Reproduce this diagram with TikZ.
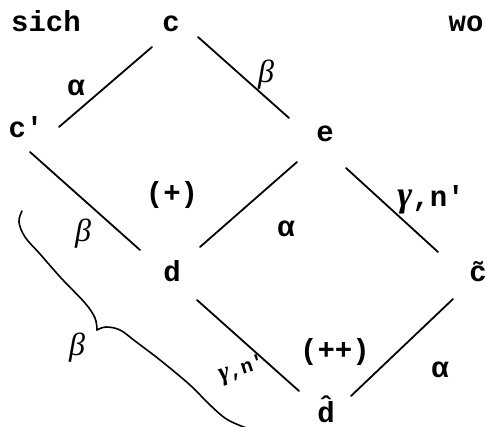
\documentclass[tikz,border=0pt]{standalone}
\usepackage{fontspec}
\setmainfont{Liberation Mono}
\newfontfamily\grk{Liberation Serif}
\usetikzlibrary{calc}
\newcommand{\gam}[1]{{\fontsize{#1}{#1}\selectfont\grk\itshape γ}}
\begin{document}
\begin{tikzpicture}[x=1pt,y=-1pt,
  lbl/.style={font=\fontsize{29}{31}\selectfont\bfseries, inner sep=0pt, anchor=base},
  greek/.style={font=\fontsize{29}{31}\selectfont\bfseries, inner sep=0pt},
  betastyle/.style={font=\fontsize{32}{34}\selectfont\grk\itshape, inner sep=0pt},
  small/.style={font=\fontsize{20}{22}\selectfont\bfseries, inner sep=0pt},
  edge/.style={line width=1.8pt, line cap=round},
  brace/.style={line width=1.6pt, line cap=round, line join=round}]
\useasboundingbox (0,0) rectangle (487,427);
% vertices
\node[lbl] (sich) at (46,32) {sich};
\node[lbl] (c) at (171,32) {c};
\node[lbl] (wo) at (466,32) {wo};
\node[lbl] (cp) at (26,138) {c\textquotesingle};
\node[lbl] (e) at (325,142) {e};
\node[lbl] (d) at (172,282) {d};
\node[lbl] (ct) at (478,282) {\~{c}};
\node[lbl] (dh) at (326,422) {\^{d}};
% edges
\draw[edge] ($(c.base)+(-19,15)$) -- ($(cp.base)+(33,-11)$);
\draw[edge] ($(c.base)+(27,5)$) -- ($(e.base)+(-36,-24)$);
\draw[edge] ($(cp.base)+(4,14)$) -- ($(d.base)+(-32,-32)$);
\draw[edge] ($(e.base)+(-28,20)$) -- ($(d.base)+(28,-35)$);
\draw[edge] ($(e.base)+(21,26)$) -- ($(ct.base)+(-40,-30)$);
\draw[edge] ($(d.base)+(25,18)$) -- ($(dh.base)+(-27,-31)$);
\draw[edge] ($(ct.base)+(-25,17)$) -- ($(dh.base)+(25,-26)$);
% edge labels
\node[greek] (la1) at (76,88) {α};
\node[betastyle] (lb1) at (266,75) {β};
\node[betastyle] (lb2) at (83,234) {β};
\node[greek] (la2) at (286,229) {α};
\node[greek] (lg1) at (431,200) {\gam{36},n\textquotesingle};
\node[greek] (la3) at (440,370) {α};
\node[small, rotate=18] (lg2) at (242,370) {\gam{26},n\textquotesingle};
% region labels
\node[greek] (plus) at (172,195) {(+)};
\node[greek] (pplus) at (335,352) {(++)};
% brace
\draw[brace] plot[smooth, tension=0.6] coordinates {(22,211) (19,222) (25,237) (40,254) (62,279) (85,303) (95,318) (97,330)};
\draw[brace] plot[smooth, tension=0.6] coordinates {(97,330) (106,327) (120,330) (135,341) (160,360) (190,385) (210,405) (228,420) (252,430)};
\node[betastyle] (lb3) at (77,348) {β};
\end{tikzpicture}
\end{document}
